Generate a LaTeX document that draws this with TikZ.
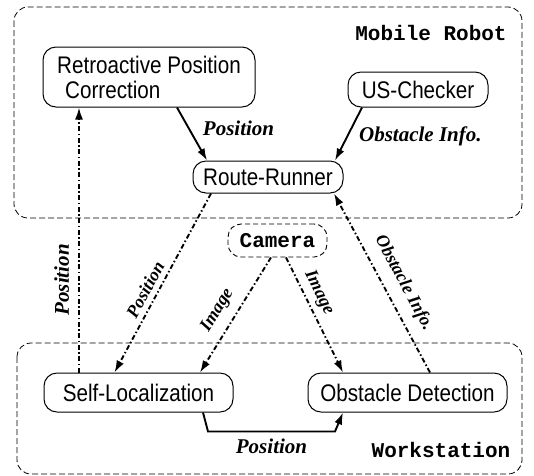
\documentclass[tikz,border=0pt]{standalone}
\usepackage{fontspec}
\setmainfont{Liberation Serif}
\newfontfamily\modfont[FakeStretch=0.86]{Liberation Sans}
\newfontfamily\codefont{Liberation Mono}
\usetikzlibrary{arrows.meta,calc}
\begin{document}
\begin{tikzpicture}[x=1pt,y=-1pt,
  module/.style={draw,rounded corners=13pt,line width=1pt,inner sep=0pt,
    font={\modfont\fontsize{24}{25}\selectfont}},
  cambox/.style={draw,dash pattern=on 5pt off 3pt,rounded corners=13pt,line width=0.9pt,
    inner sep=0pt,font={\codefont\bfseries\fontsize{21}{21}\selectfont}},
  area/.style={draw,dash pattern=on 6pt off 3pt,line width=0.8pt,rounded corners=14pt},
  areatitle/.style={font={\codefont\bfseries\fontsize{21}{21}\selectfont},inner sep=0pt},
  tip/.style={-{Latex[length=12pt,width=8pt]}},
  flow/.style={tip,line width=1.9pt},
  dd/.style={tip,line width=1.9pt,dash pattern=on 5pt off 2.5pt on 1.5pt off 2.5pt},
  lab/.style={font={\bfseries\itshape\fontsize{21}{21}\selectfont},inner sep=1pt},
  labsmall/.style={font={\bfseries\itshape\fontsize{18}{18}\selectfont},inner sep=1pt}
]
\useasboundingbox (0,0) rectangle (534,475);

% the two hosts
\draw[area] (14,7) rectangle (522,218);
\draw[area] (17,343) rectangle (522,474);
\node[areatitle] (mrt) at (431,33) {Mobile Robot};
\node[areatitle] (wst) at (441,450) {Workstation};

% modules
\node[module,minimum width=212pt,minimum height=60pt,align=left] (ret) at (149,77)
  {Retroactive Position\\\hspace*{8pt}Correction};
\node[module,minimum width=140pt,minimum height=35pt] (us) at (418,89.5) {US-Checker};
\node[module,minimum width=150pt,minimum height=32pt] (rr) at (268,177) {Route-Runner};
\node[cambox,minimum width=99pt,minimum height=33pt] (cam) at (277.5,240.5) {Camera};
\node[module,minimum width=189pt,minimum height=39pt] (sl) at (138.5,392.5) {Self-Localization};
\node[module,minimum width=199pt,minimum height=39pt] (od) at (407.5,392.5) {Obstacle Detection};

% on-board data flow
\draw[flow] ([xshift=28pt]ret.south) -- node[pos=0.4,right=12pt,lab]{Position}
  ([xshift=-61pt]rr.north);
\draw[flow] ([xshift=-56pt]us.south) -- node[pos=0.55,right=10pt,lab]{Obstacle Info.}
  ([xshift=67pt]rr.north);

% radio links between robot and workstation
\draw[dd] ([xshift=-57pt]rr.south) -- node[pos=0.57,sloped,above=4pt,labsmall]{Position}
  ([xshift=-24pt]sl.north);
\draw[dd] ([xshift=22.5pt]od.north) -- node[pos=0.45,sloped,above=9pt,labsmall]{Obstacle Info.}
  ([xshift=66pt]rr.south);
\draw[dd] ([xshift=-6.5pt]cam.south) -- node[pos=0.54,sloped,above=8pt,labsmall]{Image}
  ([xshift=61.5pt]sl.north);
\draw[dd] ([xshift=8.5pt]cam.south) -- node[pos=0.36,sloped,above=4pt,labsmall]{Image}
  ([xshift=-64.5pt]od.north);
\draw[dd] ([xshift=-59.5pt]sl.north) -- node[pos=0.35,sloped,above=8pt,lab]{Position}
  ([xshift=-70pt]ret.south);

% workstation internal flow
\draw[flow] ([xshift=64.5pt]sl.south) -- ($(sl.south)+(69.5,19)$)
  -- node[below=5pt,lab]{Position} ($(od.south)+(-72.5,19)$)
  -- ([xshift=-64.5pt]od.south);
\end{tikzpicture}
\end{document}
